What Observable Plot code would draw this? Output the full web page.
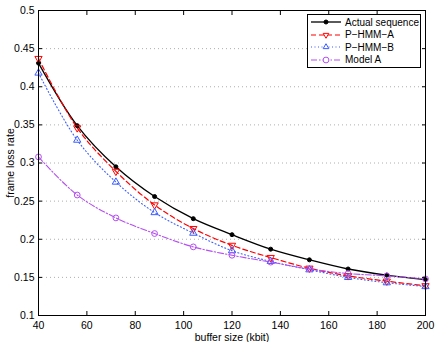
<!DOCTYPE html>
<html>
<head>
<meta charset="utf-8">
<script src="https://cdn.jsdelivr.net/npm/d3@7"></script>
<script src="https://cdn.jsdelivr.net/npm/@observablehq/plot@0.6"></script>
<style>
  html, body { margin: 0; padding: 0; background: #fff; }
  #wrap { position: relative; width: 436px; height: 342px; font-family: "Liberation Sans", Arial, sans-serif; }
  #legend { position: absolute; left: 307px; top: 14px; width: 112px; background: #fff; border: 1px solid #000; padding: 1px 0; font-size: 10px; }
  #legend .row { display: flex; align-items: center; height: 12.5px; }
  #legend svg { margin: 0 3px 0 2px; }
</style>
</head>
<body>
<div id="wrap"></div>
<script>
const bufferSizes = [40, 56, 72, 88, 104, 120, 136, 152, 168, 184, 200];
const seriesNames = ["Actual sequence", "P\u2212HMM\u2212A", "P\u2212HMM\u2212B", "Model A"];
const actualSeq = [0.431, 0.349, 0.295, 0.256, 0.227, 0.206, 0.187, 0.173, 0.161, 0.153, 0.147];
const pHmmA     = [0.437, 0.346, 0.289, 0.245, 0.214, 0.192, 0.176, 0.162, 0.152, 0.145, 0.139];
const pHmmB     = [0.418, 0.330, 0.275, 0.235, 0.208, 0.185, 0.171, 0.160, 0.150, 0.143, 0.138];
const modelA    = [0.308, 0.258, 0.228, 0.2075, 0.190, 0.179, 0.170, 0.161, 0.155, 0.152, 0.148];
const xTicks = [40, 60, 80, 100, 120, 140, 160, 180, 200];
const yTicks = [0.1, 0.15, 0.2, 0.25, 0.3, 0.35, 0.4, 0.45, 0.5];

const styles = [
  {stroke: "#000000", dash: null, symbol: "circle", fill: "#000000", r: 2, rotate: 0, width: 1.3},
  {stroke: "#ff0000", dash: "5,3", symbol: "triangle", fill: "none", r: 2.7, rotate: 180, width: 1.2},
  {stroke: "#3a5cff", dash: "1,2.5", symbol: "triangle", fill: "none", r: 2.7, rotate: 0, width: 1.1},
  {stroke: "#b54ff0", dash: "6,2,1.5,2", symbol: "circle", fill: "none", r: 2.9, rotate: 0, width: 1.1}
];
const values = [actualSeq, pHmmA, pHmmB, modelA];

const lineMarks = [];
const dotMarks = [];
values.forEach((vals, i) => {
  const s = styles[i];
  const data = bufferSizes.map((x, j) => ({x, y: vals[j], series: seriesNames[i]}));
  lineMarks.push(Plot.line(data, {x: "x", y: "y", stroke: s.stroke, strokeWidth: s.width, strokeDasharray: s.dash, curve: "catmull-rom"}));
  dotMarks.push(Plot.dot(data, {x: "x", y: "y", symbol: s.symbol, r: s.r, rotate: s.rotate, stroke: s.stroke, fill: s.fill, strokeWidth: 1}));
});

const fmtY = d => String(+d.toFixed(2));

const chart = Plot.plot({
  width: 436,
  height: 342,
  marginLeft: 38,
  marginRight: 11,
  marginTop: 10,
  marginBottom: 27,
  style: {fontFamily: "Liberation Sans, Arial, sans-serif", fontSize: "10px", color: "#000", background: "#fff"},
  x: {domain: [40, 200]},
  y: {domain: [0.1, 0.5]},
  marks: [
    Plot.ruleY(yTicks.slice(1, -1), {stroke: "#999", strokeDasharray: "1,3", strokeWidth: 0.8}),
    ...lineMarks,
    ...dotMarks,
    Plot.frame({stroke: "#000", strokeWidth: 1}),
    Plot.axisX(xTicks, {anchor: "bottom", tickSize: 0, tickPadding: 6, fontSize: 10.5, label: "buffer size (kbit)", labelAnchor: "center", labelOffset: 25, labelArrow: "none"}),
    Plot.axisX(xTicks, {anchor: "bottom", tickSize: -4, tickFormat: () => "", label: null}),
    Plot.axisX(xTicks, {anchor: "top", tickSize: -4, tickFormat: () => "", label: null}),
    Plot.axisY(yTicks, {anchor: "left", tickSize: 0, tickPadding: 4, fontSize: 10.5, tickFormat: fmtY, label: "frame loss rate", labelAnchor: "center", labelOffset: 32, labelArrow: "none"}),
    Plot.axisY(yTicks, {anchor: "left", tickSize: -4, tickFormat: () => "", label: null}),
    Plot.axisY(yTicks, {anchor: "right", tickSize: -4, tickFormat: () => "", label: null})
  ]
});

const wrap = document.getElementById("wrap");
wrap.appendChild(chart);

// legend
const legend = document.createElement("div");
legend.id = "legend";
const ns = "http://www.w3.org/2000/svg";
seriesNames.forEach((name, i) => {
  const s = styles[i];
  const row = document.createElement("div");
  row.className = "row";
  const svg = document.createElementNS(ns, "svg");
  svg.setAttribute("width", 32);
  svg.setAttribute("height", 12);
  const line = document.createElementNS(ns, "line");
  line.setAttribute("x1", 1); line.setAttribute("x2", 31);
  line.setAttribute("y1", 6); line.setAttribute("y2", 6);
  line.setAttribute("stroke", s.stroke);
  line.setAttribute("stroke-width", s.width);
  if (s.dash) line.setAttribute("stroke-dasharray", s.dash);
  svg.appendChild(line);
  const sym = s.symbol === "circle" ? d3.symbolCircle : d3.symbolTriangle2;
  const size = Math.PI * s.r * s.r;
  const p = document.createElementNS(ns, "path");
  p.setAttribute("d", d3.symbol(sym, size)());
  p.setAttribute("transform", `translate(16,6) rotate(${s.rotate})`);
  p.setAttribute("stroke", s.stroke);
  p.setAttribute("fill", s.fill === "none" ? "#fff" : s.fill);
  svg.appendChild(p);
  row.appendChild(svg);
  const t = document.createElement("span");
  t.textContent = name;
  row.appendChild(t);
  legend.appendChild(row);
});
wrap.appendChild(legend);
</script>
</body>
</html>
